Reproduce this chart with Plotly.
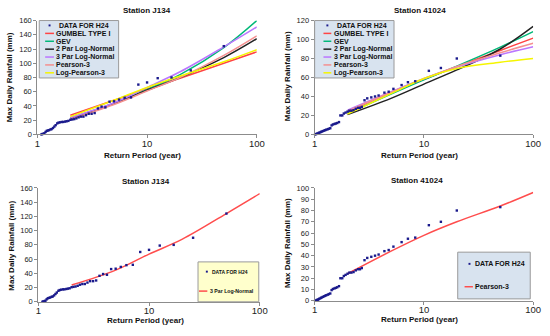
import plotly.graph_objects as go

# ---------------- DATA ----------------
# Station J134 observed (return period in years, max daily rainfall mm)
j134_T = [50, 25, 16.7, 12.5, 10, 8.33, 7.14, 6.25, 5.56, 5.0, 4.55, 4.17, 3.85, 3.57, 3.33,
          3.125, 2.94, 2.78, 2.63, 2.5, 2.38, 2.27, 2.17, 2.08, 2.0, 1.92, 1.85, 1.79, 1.72,
          1.67, 1.61, 1.56, 1.52, 1.47, 1.43, 1.39, 1.35, 1.32, 1.28, 1.25, 1.22, 1.19, 1.16,
          1.14, 1.11, 1.09]
j134_P = [124, 90, 80, 79, 73, 70, 52, 51.5, 49, 46.5, 46, 38, 39, 36.5, 30,
          29, 29, 27, 25, 25, 24, 22.5, 21.5, 21, 20.5, 19, 18.5, 18, 17.5,
          17.5, 17, 16.5, 15.5, 13, 11, 9, 7.5, 7, 6, 5.5, 5, 3.5, 1.5,
          1, 0.5, 0]

# Station 41024 observed
s41_T = [50, 20, 14.3, 11.1, 8.33, 7.14, 6.25, 5.26, 4.76, 4.35, 3.85, 3.57, 3.3, 3.03, 2.86,
         2.7, 2.6, 2.5, 2.38, 2.27, 2.17, 2.08, 2.0, 1.92, 1.85, 1.79, 1.72, 1.67, 1.61, 1.56,
         1.52, 1.47, 1.43, 1.39, 1.35, 1.32, 1.28, 1.25, 1.22, 1.19, 1.16, 1.14, 1.11, 1.09,
         1.07, 1.05, 1.03, 1.01]
s41_P = [83, 80, 70, 67, 56, 55, 52, 48, 45, 44, 41, 40, 39, 38, 36,
         29, 28, 28, 27, 25.5, 25, 25, 24, 23, 22, 20, 20, 13, 12, 11.5,
         11, 10.5, 9.5, 6.5, 6, 5.5, 5, 4.5, 4, 3.5, 3, 2.5, 2, 1.5,
         1, 0.8, 0.3, 0]

# Fitted distributions evaluated at these return periods
fit_T = [2, 5, 10, 20, 50, 100]

j134_fits = {
    "GUMBEL TYPE I":     [27, 48, 64, 79, 100, 116],
    "GEV":               [23, 44, 63, 84, 122, 160],
    "2 Par Log-Normal":  [22, 43, 62, 80, 108, 134.5],
    "3 Par Log-Normal":  [23.5, 44.5, 66, 88, 123, 151],
    "Pearson-3":         [21, 42, 61, 80, 111, 138.5],
    "Log-Pearson-3":     [25, 48, 66, 82, 102, 119],
}
s41_fits = {
    "GUMBEL TYPE I":     [23.6, 44.4, 58.2, 71.4, 88.5, 101.5],
    "GEV":               [22.2, 42.5, 57.5, 72, 92, 108.4],
    "2 Par Log-Normal":  [20.9, 38, 53, 68, 90, 113.8],
    "3 Par Log-Normal":  [25.6, 45, 59, 71, 84, 92.3],
    "Pearson-3":         [24.6, 44.5, 58.5, 71.5, 86, 96],
    "Log-Pearson-3":     [21.5, 43, 59, 69.5, 76, 80],
}
j134_3pln = [23.5, 44.5, 67, 88, 124, 152]
s41_p3 = [24, 44, 58, 70, 84, 96]

x_ticks = [1, 10, 100]
x_tick_text = ["1", "10", "100"]

# ---------------- STYLE ----------------
W, H = 550, 336
FONT = "Liberation Sans, Arial, sans-serif"
colors = {
    "GUMBEL TYPE I": "#ff4444",
    "GEV": "#00b878",
    "2 Par Log-Normal": "#222222",
    "3 Par Log-Normal": "#bb77ff",
    "Pearson-3": "#f49090",
    "Log-Pearson-3": "#f5f500",
}
DOT = "#1a1a8c"
AXC = "#8c8c8c"


def px(x):
    return x / W


def py(y):
    return 1 - y / H


fig = go.Figure()

panels = [
    ("", (35, 259), (17, 134), 160, 20),
    ("2", (318, 541), (17, 134), 120, 20),
    ("3", (36, 262), (189, 306), 160, 20),
    ("4", (318, 541), (189, 305), 100, 10),
]

layout = {}
for suf, (x0, x1), (yt, yb), ymax, dt in panels:
    layout["xaxis" + suf] = dict(
        domain=[px(x0), px(x1)], anchor="y" + suf, type="log", range=[0, 2],
        tickvals=x_ticks, ticktext=x_tick_text, ticks="outside", ticklen=3,
        tickcolor=AXC, showline=True, linecolor=AXC, linewidth=1, showgrid=False,
        zeroline=False, tickfont=dict(family=FONT, size=9.5, color="#222"),
        ticklabelstandoff=-3, fixedrange=True)
    layout["yaxis" + suf] = dict(
        domain=[py(yb), py(yt)], anchor="x" + suf, range=[0, ymax], dtick=dt,
        ticks="outside", ticklen=3, tickcolor=AXC, showline=True, linecolor=AXC,
        linewidth=1, showgrid=False, zeroline=False,
        tickfont=dict(family=FONT, size=7.5, color="#222"), fixedrange=True)


def add_fit(T, P, color, xa, ya):
    fig.add_trace(go.Scatter(x=T, y=P, mode="lines", line=dict(color=color, width=1.5, shape="spline"),
                             xaxis=xa, yaxis=ya, showlegend=False, hoverinfo="skip"))


def add_obs(T, P, xa, ya):
    fig.add_trace(go.Scatter(x=T, y=P, mode="markers",
                             marker=dict(color=DOT, size=2.4, symbol="square"),
                             xaxis=xa, yaxis=ya, showlegend=False, cliponaxis=False))


for name, vals in j134_fits.items():
    add_fit(fit_T, vals, colors[name], "x", "y")
add_obs(j134_T, j134_P, "x", "y")
for name, vals in s41_fits.items():
    add_fit(fit_T, vals, colors[name], "x2", "y2")
add_obs(s41_T, s41_P, "x2", "y2")
add_fit(fit_T, j134_3pln, "#ff4d4d", "x3", "y3")
add_obs(j134_T, j134_P, "x3", "y3")
add_fit(fit_T, s41_p3, "#ff4d4d", "x4", "y4")
add_obs(s41_T, s41_P, "x4", "y4")

shapes = []
annotations = []


def text(x, y, s, size, bold=True, angle=0, xanchor="center", color="#111"):
    annotations.append(dict(
        x=px(x), y=py(y), xref="paper", yref="paper", text=("<b>%s</b>" % s) if bold else s,
        showarrow=False, xanchor=xanchor, yanchor="middle", textangle=angle,
        font=dict(family=FONT, size=size, color=color)))


text(147, 7, "Station J134", 8)
text(425, 7, "Station 41024", 8)
text(146, 182, "Station J134", 8)
text(422, 181, "Station 41024", 8)
for cx, cy in [(142.5, 156), (425, 156), (145, 325), (425, 324)]:
    text(cx, cy, "Return Period (year)", 8)
for cx, cy in [(7.5, 75), (290, 74), (8.5, 248), (290.5, 246)]:
    text(cx, cy, "Max Daily Rainfall (mm)", 8, angle=-90)


def legend_box(x0, y0, x1, y1, fill):
    shapes.append(dict(type="rect", xref="paper", yref="paper", x0=px(x0), x1=px(x1),
                       y0=py(y1), y1=py(y0), fillcolor=fill, line=dict(color="#9a9a9a", width=1),
                       layer="above"))


def legend_line(x0, x1, y, color):
    shapes.append(dict(type="line", xref="paper", yref="paper", x0=px(x0), x1=px(x1),
                       y0=py(y), y1=py(y), line=dict(color=color, width=1.5), layer="above"))


def legend_dot(x, y):
    shapes.append(dict(type="rect", xref="paper", yref="paper", x0=px(x - 1), x1=px(x + 1),
                       y0=py(y + 1), y1=py(y - 1), fillcolor=DOT, line=dict(width=0), layer="above"))


names = list(colors.keys())
for bx0, lx0, lx1, tx in [(37, 43, 52, 52.5), (318, 327, 335, 335.5)]:
    legend_box(bx0, 17, bx0 + 81, 76, "#d8e3ef")
    y = 22
    legend_dot((lx0 + lx1) / 2, y)
    text(tx + 3, y, "DATA FOR H24", 7, xanchor="left")
    for i, n in enumerate(names):
        yy = 30.2 + i * 8.1
        legend_line(lx0, lx1, yy, colors[n])
        text(tx, yy, n, 7, xanchor="left")

legend_box(199, 265, 261, 306, "#ffffcc")
legend_dot(208, 275)
text(211.5, 275, "DATA FOR H24", 5, xanchor="left")
legend_line(200, 208.5, 295, "#ff4d4d")
text(209, 295, "3 Par Log-Normal", 5.2, xanchor="left")

legend_box(464, 255, 538, 303, "#d8e3ef")
legend_dot(476, 267)
text(480, 267, "DATA FOR H24", 7, xanchor="left")
legend_line(471, 479.5, 290.5, "#ff4d4d")
text(480, 290.5, "Pearson-3", 7, xanchor="left")

fig.update_layout(
    width=W, height=H, margin=dict(l=0, r=0, t=0, b=0),
    paper_bgcolor="white", plot_bgcolor="white", showlegend=False,
    shapes=shapes, annotations=annotations, **layout)

fig.write_html("out.html", config={"displayModeBar": False},
               post_script="document.body.style.margin='0';document.body.style.overflow='hidden';")
